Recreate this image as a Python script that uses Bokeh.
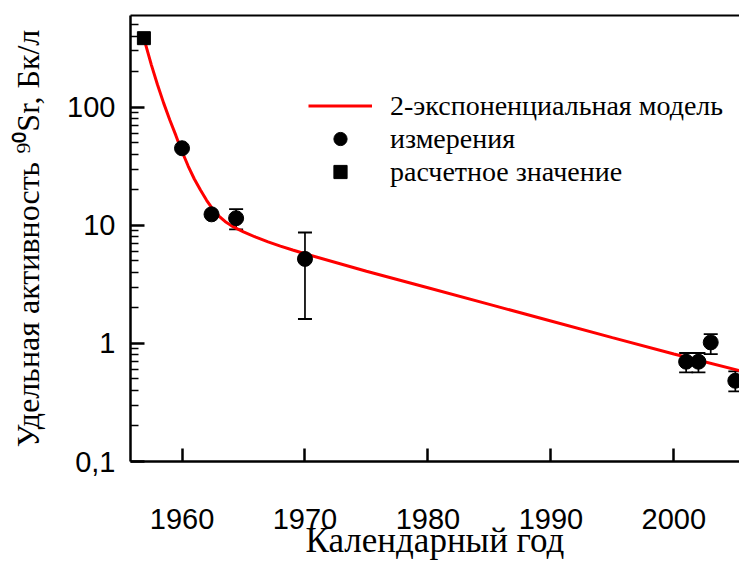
from bokeh.plotting import figure
from bokeh.models import (Range1d, FixedTicker, LinearAxis, Whisker, TeeHead,
                          ColumnDataSource, Legend, LegendItem)
from bokeh.embed import file_html
from bokeh.resources import INLINE

# ---- data ----
model_years = [1956.9, 1957.5, 1958.0, 1958.5, 1959.0, 1959.5, 1959.88,
               1960.5, 1961.0, 1961.5, 1962.0, 1962.5, 1963.0, 1963.5,
               1964.0, 1964.5, 1965.0, 1966.0, 1967.0, 1968.0, 1969.0,
               1970.0, 1975.0, 1980.0, 1985.0, 1990.0, 1995.0, 2000.0, 2005.34]
model_values = [384, 230, 156, 109, 78.4, 57.8, 45.2,
                31.8, 24.7, 19.9, 16.3, 13.7, 12.0, 10.8,
                9.95, 9.33, 8.81, 7.94, 7.24, 6.67, 6.18,
                5.75, 4.09, 2.96, 2.14, 1.55, 1.12, 0.813, 0.589]

calc_year = [1956.9]
calc_value = [385]

meas_years = [1960, 1962.4, 1964.4, 1970, 2001, 2002, 2003, 2005]
meas_values = [45, 12.4, 11.5, 5.2, 0.70, 0.70, 1.02, 0.483]
meas_upper = [45, 12.4, 13.7, 8.7, 0.83, 0.83, 1.20, 0.58]
meas_lower = [45, 12.4, 9.25, 1.61, 0.568, 0.568, 0.813, 0.392]

x_ticks = [1960, 1970, 1980, 1990, 2000]
y_ticks = [0.1, 1, 10, 100]
y_tick_labels = ["0,1", "1", "10", "100"]
y_minor_ticks = [0.2, 0.3, 0.4, 0.5, 0.6, 0.7, 0.8, 0.9,
                 2, 3, 4, 5, 6, 7, 8, 9,
                 20, 30, 40, 50, 60, 70, 80, 90,
                 200, 300, 400, 500]

legend_labels = ["2-экспоненциальная модель", "измерения", "расчетное значение"]
x_title = "Календарный год"
y_title = "Удельная активность \u2079\u2070Sr, Бк/л"

# ---- figure ----
p = figure(width=739, height=562, output_backend="svg", toolbar_location=None,
           y_axis_type="log",
           x_range=Range1d(1955.81, 2005.34), y_range=Range1d(0.1, 599),
           min_border_left=130, min_border_top=15, min_border_right=0,
           min_border_bottom=101)
p.outline_line_color = None
p.grid.visible = False
p.background_fill_color = "white"
p.border_fill_color = "white"

line_r = p.line(model_years, model_values, line_color="red", line_width=3)

src = ColumnDataSource(dict(x=meas_years, y=meas_values,
                            upper=meas_upper, lower=meas_lower))
wh = Whisker(source=src, base="x", upper="upper", lower="lower",
             dimension="height", line_color="black", line_width=1.7,
             upper_head=TeeHead(size=14, line_width=1.8, line_color="black"),
             lower_head=TeeHead(size=14, line_width=1.8, line_color="black"))
p.add_layout(wh)

meas_r = p.scatter("x", "y", source=src, marker="circle", size=15,
                   fill_color="black", line_color="black")
calc_r = p.scatter(calc_year, calc_value, marker="square", size=13,
                   fill_color="black", line_color="black")

# ---- axes ----
xa = p.xaxis[0]
xa.ticker = FixedTicker(ticks=x_ticks, minor_ticks=[])
xa.axis_line_width = 2.5
xa.major_tick_in = 13
xa.major_tick_out = 0
xa.major_tick_line_width = 2.5
xa.minor_tick_line_color = None
xa.major_label_text_font = "Liberation Sans"
xa.major_label_text_font_size = "29px"
xa.major_label_text_color = "black"
xa.major_label_standoff = 47
xa.axis_label = x_title
xa.axis_label_text_font = "Liberation Serif"
xa.axis_label_text_font_size = "35px"
xa.axis_label_text_font_style = "normal"
xa.axis_label_text_color = "black"
xa.axis_label_standoff = -11

ya = p.yaxis[0]
ya.ticker = FixedTicker(ticks=y_ticks, minor_ticks=y_minor_ticks)
ya.major_label_overrides = {v: l for v, l in zip(y_ticks, y_tick_labels)}
ya.axis_line_width = 2.5
ya.major_tick_in = 14
ya.major_tick_out = 0
ya.minor_tick_in = 8
ya.minor_tick_out = 0
ya.major_tick_line_width = 2.5
ya.minor_tick_line_width = 1.5
ya.major_label_text_font = "Liberation Sans"
ya.major_label_text_font_size = "29px"
ya.major_label_text_color = "black"
ya.major_label_standoff = 15
ya.axis_label = y_title
ya.axis_label_text_font = "Liberation Serif"
ya.axis_label_text_font_size = "32px"
ya.axis_label_text_font_style = "normal"
ya.axis_label_text_color = "black"
ya.axis_label_standoff = 18

top = LinearAxis(ticker=FixedTicker(ticks=[]), axis_line_width=2,
                 major_tick_line_color=None, minor_tick_line_color=None,
                 major_label_text_font_size="0px")
p.add_layout(top, "above")

legend = Legend(items=[LegendItem(label=legend_labels[0], renderers=[line_r]),
                       LegendItem(label=legend_labels[1], renderers=[meas_r]),
                       LegendItem(label=legend_labels[2], renderers=[calc_r])],
                location=(178, 273), orientation="vertical",
                background_fill_alpha=0, border_line_color=None,
                padding=0, margin=0, spacing=0,
                glyph_width=64, glyph_height=33, label_height=33,
                label_standoff=18,
                label_text_font="Liberation Serif",
                label_text_font_size="28px", label_text_color="black")
p.add_layout(legend)

open("out.html", "w").write(file_html(p, INLINE))
